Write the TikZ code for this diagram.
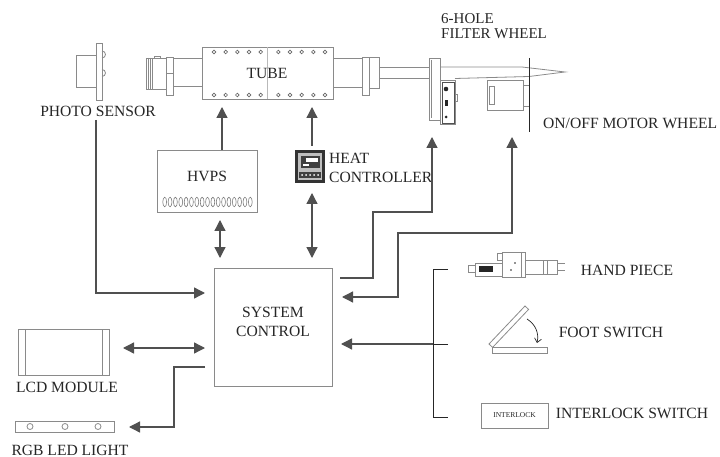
\documentclass[tikz,border=0pt]{standalone}
\usepackage{fontspec}
\setmainfont{Liberation Serif}
\usetikzlibrary{arrows.meta}
\definecolor{ink}{HTML}{262626}
\definecolor{wire}{HTML}{505050}
\definecolor{edge}{HTML}{8A8A8A}
\begin{document}
\begin{tikzpicture}[x=1pt,y=-1pt,
  lbl/.style={text=ink,font=\fontsize{15.6}{18}\selectfont,inner sep=0pt},
  conn/.style={draw=wire,line width=1.3pt},
  tip/.style={-{Triangle[length=11pt,width=11pt]}},
  dtip/.style={{Triangle[length=11pt,width=11pt]}-{Triangle[length=11pt,width=11pt]}},
  part/.style={draw=edge,line width=0.8pt},
  partd/.style={draw=ink!80,line width=0.8pt},
  pin/.style={draw=ink!70,line width=0.7pt,fill=white},
]
\useasboundingbox (0,0) rectangle (720,457);

% ---------------- photo sensor ----------------
\draw[part] (76,55) rectangle (96,87);
\draw[part] (96,43) rectangle (102,100);
\draw[part] (102,58) arc[start angle=90,end angle=-90,radius=3.5];
\draw[part] (102,76.5) arc[start angle=90,end angle=-90,radius=3.5];
\node[lbl] (pslbl) at (98,111) {PHOTO SENSOR};

% ---------------- tube assembly ----------------
\draw[part] (146,58) rectangle (166,89);
\draw[part] (148,58)--(148,89) (150,58)--(150,89) (152,58)--(152,89);
\draw[part] (154,58)--(154,56)--(160,56)--(160,58);
\draw[part] (166,57) rectangle (173,95);
\draw[part] (166,73)--(173,73);
\draw[part] (173,58)--(202,58) (173,86)--(202,86);
\node[draw=edge,line width=0.8pt,minimum width=131pt,minimum height=52pt,inner sep=0pt] (tube) at (267.5,73) {};
\draw[draw=edge!60,line width=0.5pt] (267,47)--(267,99);
\foreach \x in {214,225.7,237.3,249,260.7,278.3,290,301.7,313.3,325}{
  \draw[pin] (\x,52) circle[radius=1.8];
  \draw[pin] (\x,95) circle[radius=1.8];
}
\node[lbl] (tubelbl) at (267,73) {TUBE};
\draw[part] (333,58)--(362,58) (333,87)--(362,87);
\draw[part] (362,57) rectangle (369,95);
\draw[part] (369,57) rectangle (379,88);
\draw[part] (379,67)--(429,67) (379,78)--(429,78);
% filter wheel
\draw[part] (429,58) rectangle (440,120);
\draw[part] (431,60)--(431,118);
\draw[part] (440,67)--(522,67)--(565,72)--(529,76.5)--(455,78.5);
\draw[part] (440,80) rectangle (455,124);
\draw[partd] (442,82) rectangle (454,123);
\fill[ink] (446,89) circle[radius=2.3];
\fill[ink] (445,100) rectangle (447.5,106);
\fill[ink] (446,117) circle[radius=1.5];
\draw[part] (455,94) rectangle (457,101);
% motor wheel
\draw[part] (487,80) rectangle (523,110);
\draw[part] (489,86) rectangle (494,104);
\draw[part] (523,85) rectangle (529,106);
\draw[draw=ink,line width=1pt] (529,58)--(529,132);
\node[lbl,anchor=west,font=\fontsize{15}{14}\selectfont] (fwlbl1) at (441,19) {6-HOLE};
\node[lbl,anchor=west,font=\fontsize{15}{14}\selectfont] (fwlbl2) at (441,33.5) {FILTER WHEEL};
\node[lbl,anchor=west] (mwlbl) at (543,123) {ON/OFF MOTOR WHEEL};

% ---------------- HVPS ----------------
\node[draw=edge,line width=0.8pt,minimum width=100pt,minimum height=62pt,inner sep=0pt] (hvps) at (207,181) {};
\node[lbl] (hvpslbl) at (207,176) {HVPS};
\foreach \i in {0,...,16}{
  \draw[draw=ink!60,line width=0.6pt] (164.7+5.35*\i,202) ellipse[x radius=1.9,y radius=4.8];
}

% ---------------- heat controller ----------------
\fill[black!80] (295,150) rectangle (325,183);
\fill[black!25] (298,153) rectangle (322,180);
\fill[black!75] (301,156) rectangle (320,168);
\fill[white] (306,158) rectangle (318,162);
\fill[white] (303,164) rectangle (309,166);
\fill[black!75] (299,172) rectangle (321,178);
\foreach \x in {302,306,310,314,318}{\fill[white] (\x,175) circle[radius=1];}
\node[lbl,anchor=west,align=left,font=\fontsize{15.6}{19}\selectfont] (heatlbl) at (329,167.5) {HEAT\\CONTROLLER};

% ---------------- system control ----------------
\node[draw=edge,line width=1pt,minimum width=118pt,minimum height=118pt,inner sep=0pt] (sys) at (273,327) {};
\node[lbl,align=center,font=\fontsize{15.6}{19}\selectfont] (syslbl) at (273,322) {SYSTEM\\CONTROL};

% ---------------- LCD & RGB ----------------
\draw[part] (18,329) rectangle (109,375);
\draw[part] (25,329)--(25,375) (102,329)--(102,375);
\node[lbl] (lcdlbl) at (67,387) {LCD MODULE};
\draw[part] (15,421) rectangle (114,432);
\foreach \x in {30,65,98}{\draw[part] (\x,426.5) circle[radius=3];}
\node[lbl] (rgblbl) at (70,450) {RGB LED LIGHT};

% ---------------- hand piece ----------------
\draw[part] (468,265) rectangle (475,272);
\draw[part] (475,263) rectangle (502,276);
\fill[ink] (479,266) rectangle (493,272);
\draw[part] (502,252) rectangle (525,277);
\draw[part] (497,253) rectangle (502,260);
\draw[part] (521,252)--(521,277);
\fill[ink] (515,263) circle[radius=0.8] (511,270) circle[radius=0.8];
\draw[part] (525,260) rectangle (557,274);
\draw[part] (543,260)--(543,274) (547,260)--(547,274);
\draw[part] (557,263)--(565,263) (557,270)--(565,270);
\node[lbl] (hplbl) at (627,270) {HAND PIECE};

% ---------------- foot switch ----------------
\draw[part] (492,347) rectangle (547,353);
\draw[part] (489,344)--(525,306)--(528.6,309.4)--(492.6,347.4)--cycle;
\draw[draw=ink,line width=0.7pt,-{Straight Barb[length=4pt,width=7pt]}] (527,319) to[bend left=35] (537,343);
\node[lbl] (fslbl) at (611,332) {FOOT SWITCH};

% ---------------- interlock ----------------
\node[draw=edge,line width=0.8pt,minimum width=67pt,minimum height=25pt,inner sep=0pt,text=ink,font=\fontsize{7.5}{8}\selectfont] (ilk) at (514.5,415.5) {INTERLOCK};
\node[lbl] (ilklbl) at (632,413) {INTERLOCK SWITCH};

% ---------------- connectors ----------------
\coordinate (tubeA) at (222,107);
\coordinate (tubeB) at (312,107);
\draw[conn,tip] (hvps.north -| tubeA) -- (tubeA);
\draw[conn,tip] (312,146) -- (tubeB);
\draw[conn,dtip] (220,220) -- (220,258);
\draw[conn,dtip] (312,193) -- (312,258);

\coordinate (psout) at (96,120);
\coordinate (sysps) at (205,293);
\draw[conn,tip] (psout) |- (sysps);

\coordinate (lcdend) at (123,348);
\coordinate (syslcd) at (205,348);
\draw[conn,dtip] (lcdend) -- (syslcd);

\coordinate (sysrgb) at (205,367);
\coordinate (rgbend) at (129,427);
\draw[conn,tip] (sysrgb) -- (174,367) -- (174,427) -- (rgbend);

\coordinate (sysfw) at (340,278);
\coordinate (fwend) at (432,137);
\draw[conn,tip] (sysfw) -- (373,278) -- (373,212) -- (432,212) -- (fwend);

\coordinate (mwend) at (512,137);
\coordinate (sysmw) at (342,297);
\draw[conn,dtip] (mwend) -- (512,233) -- (398,233) -- (398,297) -- (sysmw);

\coordinate (bustop) at (448,269);
\coordinate (busbot) at (448,417);
\coordinate (busmid) at (448,344);
\coordinate (sysbus) at (341,344);
\draw[draw=ink,line width=1pt] (bustop) -- (433,269) -- (433,417) -- (busbot);
\draw[draw=ink,line width=1pt] (busmid) -- (433,344);
\draw[conn,tip] (433,344) -- (sysbus);
\end{tikzpicture}
\end{document}
